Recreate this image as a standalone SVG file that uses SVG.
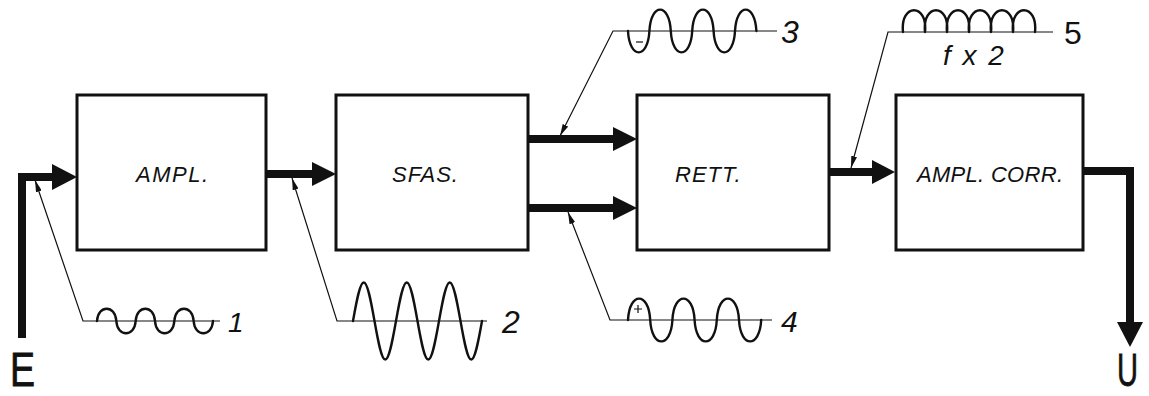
<svg xmlns="http://www.w3.org/2000/svg" width="1149" height="396" viewBox="0 0 1149 396">
<defs>
<style>
.box{fill:#fff;stroke:#111;stroke-width:3}
.lbl{font-family:"Liberation Sans",Arial,sans-serif;font-style:italic;font-size:22px;fill:#111}
.num{font-family:"Liberation Sans",Arial,sans-serif;font-style:italic;fill:#111}
.up{font-family:"Liberation Sans",Arial,sans-serif;fill:#111}
.big{font-family:"Liberation Sans",Arial,sans-serif;fill:#111;stroke:#111;stroke-width:0.8}
.wire{fill:none;stroke:#111;stroke-width:8;stroke-linejoin:miter}
.head{fill:#111}
.lead{fill:none;stroke:#111;stroke-width:1.2}
.wave{fill:none;stroke:#111;stroke-width:2.4;stroke-linecap:round;stroke-linejoin:round}
</style>
<marker id="la" markerUnits="userSpaceOnUse" markerWidth="12" markerHeight="6" viewBox="0 0 12 6" refX="12" refY="3" orient="auto-start-reverse">
<path d="M0,0 L12,3 L0,6 z" fill="#111"/>
</marker>
</defs>
<rect width="1149" height="396" fill="#fff"/>

<g id="node-ampl">
<rect class="box" x="77" y="95" width="189" height="155"/>
<text class="lbl" x="136" y="182" letter-spacing="1.5">AMPL.</text>
</g>
<g id="node-sfas">
<rect class="box" x="336" y="95" width="192" height="155"/>
<text class="lbl" x="392" y="182" letter-spacing="1">SFAS.</text>
</g>
<g id="node-rett">
<rect class="box" x="637" y="95" width="192" height="155"/>
<text class="lbl" x="675" y="182" letter-spacing="1">RETT.</text>
</g>
<g id="node-amplcorr">
<rect class="box" x="896" y="95" width="187" height="155"/>
<text class="lbl" x="917" y="182" letter-spacing="0.3">AMPL. CORR.</text>
</g>

<g id="connectors">
<path class="wire" d="M22,338 V177 H54"/>
<polygon class="head" points="52,164 77,177 52,190"/>
<path class="wire" d="M266,174 H314"/>
<polygon class="head" points="312,162 336,174 312,186"/>
<path class="wire" d="M528,139 H615"/>
<polygon class="head" points="613,127 637,139 613,151"/>
<path class="wire" d="M528,208 H615"/>
<polygon class="head" points="613,196 637,208 613,220"/>
<path class="wire" d="M829,172 H874"/>
<polygon class="head" points="872,160 895,172 872,184"/>
<path class="wire" d="M1083,171 H1130 V325"/>
<polygon class="head" points="1117,322 1143,322 1130,347"/>
</g>

<g id="signal-1">
<path class="lead" d="M35,180 L83,321 H220" marker-start="url(#la)"/>
<path class="wave" d="M97,321 c1,-16.4 18.3,-16.4 19.33,0 c1,16.4 18.3,16.4 19.33,0 c1,-16.4 18.3,-16.4 19.33,0 c1,16.4 18.3,16.4 19.33,0 c1,-16.4 18.3,-16.4 19.33,0 c1,16.4 18.3,16.4 19.33,0"/>
<text class="num" x="228" y="332" font-size="28">1</text>
</g>

<g id="signal-2">
<path class="lead" d="M292,178 L337,321 H487" marker-start="url(#la)"/>
<path class="wave" d="M353,321 c3.5,-19.7 6.86,-38.5 10.75,-38.5 c3.89,0 7.25,18.8 10.75,38.5 c3.5,19.7 6.86,38.5 10.75,38.5 c3.89,0 7.25,-18.8 10.75,-38.5 c3.5,-19.7 6.86,-38.5 10.75,-38.5 c3.89,0 7.25,18.8 10.75,38.5 c3.5,19.7 6.86,38.5 10.75,38.5 c3.89,0 7.25,-18.8 10.75,-38.5 c3.5,-19.7 6.86,-38.5 10.75,-38.5 c3.89,0 7.25,18.8 10.75,38.5 c3.5,19.7 6.86,38.5 10.75,38.5 c3.89,0 7.25,-18.8 10.75,-38.5"/>
<text class="num" x="502" y="333" font-size="32">2</text>
</g>

<g id="signal-3">
<path class="lead" d="M560,136 L613,31 H777" marker-start="url(#la)"/>
<path class="wave" d="M628,31 c1.5,28.5 19.9,28.5 21.4,0 c1.5,-28.5 19.9,-28.5 21.4,0 c1.5,28.5 19.9,28.5 21.4,0 c1.5,-28.5 19.9,-28.5 21.4,0 c1.5,28.5 19.9,28.5 21.4,0 c1.5,-28.5 19.9,-28.5 21.4,0"/>
<path class="lead" d="M636,42 H643" stroke-width="1.8"/>
<text class="num" x="781" y="43" font-size="32">3</text>
</g>

<g id="signal-4">
<path class="lead" d="M568,212 L610,320 H772" marker-start="url(#la)"/>
<path class="wave" d="M628,320 c1.5,-28.5 20.7,-28.5 22.2,0 c1.5,28.5 20.7,28.5 22.2,0 c1.5,-28.5 20.7,-28.5 22.2,0 c1.5,28.5 20.7,28.5 22.2,0 c1.5,-28.5 20.7,-28.5 22.2,0 c1.5,28.5 20.7,28.5 22.2,0"/>
<path class="lead" d="M634,309 H642 M638,305 V313" stroke-width="1.8"/>
<text class="num" x="781" y="332" font-size="30">4</text>
</g>

<g id="signal-5">
<path class="lead" d="M851,168 L888,32 H1053" marker-start="url(#la)"/>
<path class="wave" d="M903,32 c-3,-29 25,-29 22,0 c-3,-29 25,-29 22,0 c-3,-29 25,-29 22,0 c-3,-29 25,-29 22,0 c-3,-29 25,-29 22,0 c-3,-29 25,-29 22,0"/>
<text class="num" x="943" y="65" font-size="28" letter-spacing="2">f x 2</text>
<text class="up" x="1064" y="44" font-size="32">5</text>
</g>

<g id="terminal-e">
<text class="big" x="10" y="386" font-size="48" textLength="25" lengthAdjust="spacingAndGlyphs">E</text>
</g>
<g id="terminal-u">
<text class="big" x="1117" y="386" font-size="46" textLength="21" lengthAdjust="spacingAndGlyphs">U</text>
</g>
</svg>
